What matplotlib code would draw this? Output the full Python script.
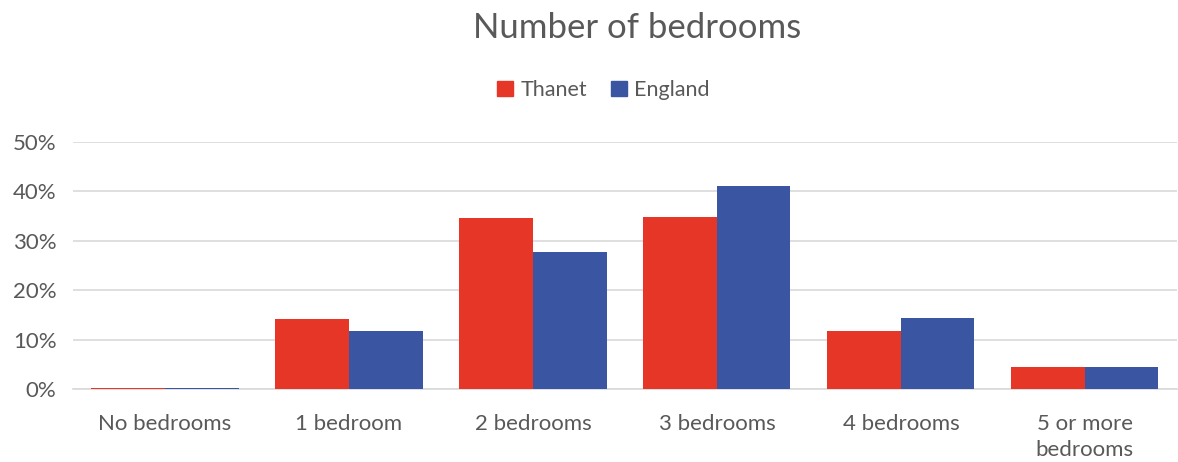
import matplotlib.pyplot as plt
import numpy as np
from matplotlib.patches import Patch

# Data (share of households)
categories = ['No bedrooms', '1 bedroom', '2 bedrooms', '3 bedrooms', '4 bedrooms', '5 or more\nbedrooms']
thanet = [0.002, 0.142, 0.346, 0.348, 0.117, 0.045]
england = [0.002, 0.117, 0.277, 0.411, 0.144, 0.045]
yticks = [0, 0.1, 0.2, 0.3, 0.4, 0.5]

thanet_red = '#E53627'
england_blue = '#3A56A3'
text_grey = '#595959'
grid_grey = '#D9D9D9'

plt.rcParams['font.family'] = ['Lato', 'DejaVu Sans']

fig = plt.figure(figsize=(11.78, 4.62), dpi=100)
ax = fig.add_axes([0.062, 0.158, 0.937, 0.535])

x = np.arange(len(categories))
w = 0.4
ax.bar(x - w / 2, thanet, w, color=thanet_red, zorder=3)
ax.bar(x + w / 2, england, w, color=england_blue, zorder=3)

ax.set_xlim(-0.5, len(categories) - 0.5)
ax.set_ylim(0, 0.5)
ax.set_yticks(yticks)
ax.set_yticklabels([f'{int(round(v * 100))}%' for v in yticks])
ax.set_xticks(x)
ax.set_xticklabels(categories, linespacing=1.4)
ax.tick_params(axis='both', length=0, labelsize=16, colors=text_grey)
ax.tick_params(axis='x', pad=18)
ax.tick_params(axis='y', pad=12)

ax.grid(axis='y', color=grid_grey, linewidth=1.2, zorder=0)
for side in ['top', 'right', 'left']:
    ax.spines[side].set_visible(False)
ax.spines['bottom'].set_color(grid_grey)
ax.spines['bottom'].set_linewidth(1.2)

fig.text(0.541, 0.94, 'Number of bedrooms', fontsize=25, color=text_grey, ha='center', va='center')

handles = [Patch(color=thanet_red, label='Thanet'), Patch(color=england_blue, label='England')]
fig.legend(handles=handles, loc='center', bbox_to_anchor=(0.512, 0.805), ncol=2, frameon=False,
           fontsize=15.5, labelcolor=text_grey, handlelength=0.75, handleheight=0.75,
           handletextpad=0.35, columnspacing=1.1)

plt.savefig('out.png', dpi=100)
